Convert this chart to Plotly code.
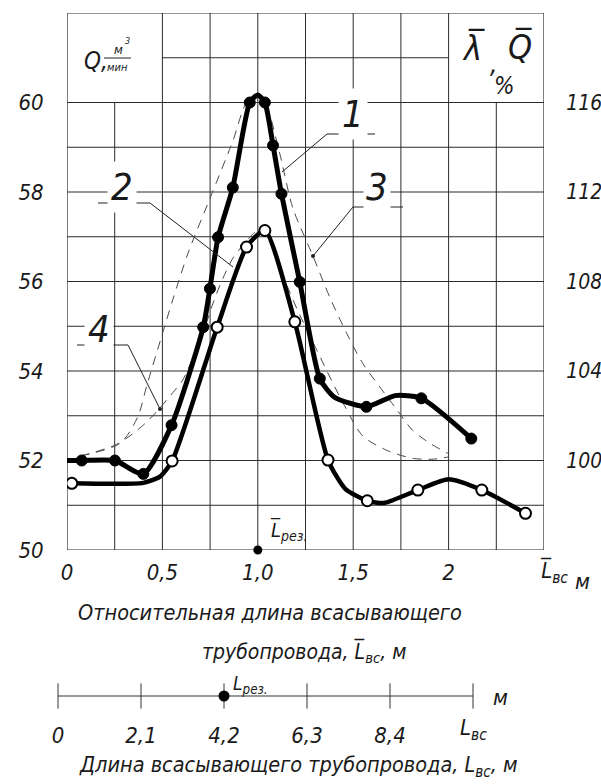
import plotly.graph_objects as go

# ---------------- data ----------------
# curve 1 (filled markers)
c1_x = [0.077, 0.251, 0.40, 0.548, 0.714, 0.749, 0.792, 0.869, 0.958, 1.037, 1.08, 1.124, 1.22, 1.325, 1.569, 1.857, 2.119]
c1_y = [52.0, 52.0, 51.7, 52.79, 54.98, 55.84, 56.99, 58.10, 60.0, 60.0, 59.04, 57.96, 55.99, 53.83, 53.2, 53.39, 52.49]
c1_line_x = [0.0, 0.077, 0.251, 0.40, 0.548, 0.714, 0.749, 0.792, 0.869, 0.958, 1.0, 1.037, 1.08, 1.124, 1.22, 1.325, 1.40, 1.569, 1.72, 1.857, 2.119]
c1_line_y = [52.0, 52.0, 52.0, 51.7, 52.79, 54.98, 55.84, 56.99, 58.10, 60.0, 60.17, 60.0, 59.04, 57.96, 55.99, 53.83, 53.42, 53.2, 53.45, 53.39, 52.49]

# curve 2 (open markers)
c2_x = [0.025, 0.551, 0.787, 0.941, 1.037, 1.194, 1.368, 1.574, 1.839, 2.174, 2.403]
c2_y = [51.49, 51.99, 54.98, 56.77, 57.14, 55.10, 52.01, 51.10, 51.34, 51.34, 50.82]
c2_line_x = [0.025, 0.40, 0.487, 0.551, 0.787, 0.941, 1.037, 1.194, 1.368, 1.46, 1.574, 1.66, 1.839, 2.0, 2.174, 2.403]
c2_line_y = [51.49, 51.5, 51.64, 51.99, 54.98, 56.77, 57.14, 55.10, 52.01, 51.36, 51.10, 51.05, 51.34, 51.58, 51.34, 50.82]

# curve 3 (wide dashed)
c3_x = [0.07, 0.28, 0.37, 0.42, 0.49, 0.555, 0.634, 0.76, 0.87, 0.94, 1.0, 1.04, 1.115, 1.183, 1.29, 1.377, 1.466, 1.55, 1.64, 1.73, 1.81, 1.90, 2.0]
c3_y = [52.1, 52.39, 52.97, 53.7, 54.69, 55.6, 56.63, 57.97, 59.15, 59.98, 60.12, 59.98, 58.86, 57.65, 56.56, 55.65, 54.84, 54.17, 53.64, 53.13, 52.68, 52.39, 52.15]

# curve 4 (narrow dashed)
c4_x = [0.07, 0.147, 0.25, 0.32, 0.41, 0.476, 0.565, 0.607, 0.712, 0.764, 0.817, 0.869, 0.92, 0.984, 1.02, 1.073, 1.115, 1.168, 1.204, 1.31, 1.445, 1.55, 1.675, 1.81, 1.92, 2.0]
c4_y = [52.1, 52.19, 52.34, 52.52, 52.83, 53.12, 53.57, 53.8, 54.84, 55.5, 56.07, 56.52, 56.8, 57.1, 57.19, 56.8, 56.3, 55.76, 55.4, 54.46, 53.3, 52.55, 52.23, 52.05, 52.03, 52.08]

# axes
x_ticks = [0, 0.5, 1.0, 1.5, 2.0]
x_ticktext = ["0", "0,5", "1,0", "1,5", "2"]
yl_ticks = [50, 52, 54, 56, 58, 60]
yr_ticks = [100, 104, 108, 112, 116]
L_ticks = [0, 2.1, 4.2, 6.3, 8.4, 10.5]
L_ticktext = ["0", "2,1", "4,2", "6,3", "8,4", ""]
L_rez_rel = 1.0
L_rez = 4.2

# ---------------- layout geometry (pixels) ----------------
W, H = 601, 784
ML, MR, MT, MB = 50, 57, 13, 40
AW, AH = W - ML - MR, H - MT - MB
OV = "\u0305"  # combining overline


def px(x):
    return (x - ML) / AW


def py(y):
    return (H - MB - y) / AH


FONT = "DejaVu Sans Condensed, Liberation Sans Narrow, Liberation Sans, sans-serif"
TXT = "#1a1a1a"
GRID = "#2b2b2b"

fig = go.Figure()

dash_style = dict(color="#4a4a4a", width=1, dash="9px,7px")
fig.add_trace(go.Scatter(x=c3_x, y=c3_y, mode="lines", line=dict(shape="spline", smoothing=0.8, **dash_style), hoverinfo="skip"))
fig.add_trace(go.Scatter(x=c4_x, y=c4_y, mode="lines", line=dict(shape="spline", smoothing=0.8, **dash_style), hoverinfo="skip"))

fig.add_trace(go.Scatter(x=c2_line_x, y=c2_line_y, mode="lines",
                         line=dict(color="black", width=4.5, shape="spline", smoothing=0.6)))
fig.add_trace(go.Scatter(x=c1_line_x, y=c1_line_y, mode="lines",
                         line=dict(color="black", width=5, shape="spline", smoothing=0.6)))
fig.add_trace(go.Scatter(x=c2_x, y=c2_y, mode="markers",
                         marker=dict(symbol="circle", size=11, color="white", line=dict(color="black", width=2))))
fig.add_trace(go.Scatter(x=c1_x, y=c1_y, mode="markers",
                         marker=dict(symbol="circle", size=11, color="black", line=dict(color="black", width=1))))
# resonance dot on main axis
fig.add_trace(go.Scatter(x=[L_rez_rel], y=[50], mode="markers", cliponaxis=False,
                         marker=dict(symbol="circle", size=9, color="black")))

# lower scale
fig.add_trace(go.Scatter(x=[L_ticks[0], L_ticks[-1]], y=[0, 0], mode="lines", xaxis="x2", yaxis="y3",
                         line=dict(color="#333", width=1), cliponaxis=False))
fig.add_trace(go.Scatter(x=L_ticks, y=[0] * len(L_ticks), mode="markers", xaxis="x2", yaxis="y3", cliponaxis=False,
                         marker=dict(symbol="line-ns", size=18, line=dict(color="#333", width=1))))
fig.add_trace(go.Scatter(x=[L_rez], y=[0], mode="markers", xaxis="x2", yaxis="y3", cliponaxis=False,
                         marker=dict(symbol="circle", size=11, color="black")))

# ---------------- grid as shapes ----------------
shapes = []
full_v = [0, 0.5, 0.75, 1.0, 1.25, 1.5, 1.75, 2.0, 2.5]
part_v = [0.25, 2.25]
for xv in full_v:
    shapes.append(dict(type="line", xref="x", yref="y", x0=xv, x1=xv, y0=50, y1=62,
                       line=dict(color=GRID, width=1.2 if xv in (0, 2.5) else 1), layer="below"))
for xv in part_v:
    shapes.append(dict(type="line", xref="x", yref="y", x0=xv, x1=xv, y0=50, y1=60,
                       line=dict(color=GRID, width=1), layer="below"))
for yv in range(50, 61):
    shapes.append(dict(type="line", xref="x", yref="y", x0=0, x1=2.5, y0=yv, y1=yv,
                       line=dict(color=GRID, width=1.2 if yv == 50 else 1), layer="below"))
shapes.append(dict(type="line", xref="x", yref="y", x0=0.5, x1=2.0, y0=61, y1=61, line=dict(color=GRID, width=1), layer="below"))
shapes.append(dict(type="line", xref="x", yref="y", x0=0, x1=2.5, y0=62, y1=62, line=dict(color=GRID, width=1.2), layer="below"))


def pline(x0, y0, x1, y1, w=1, color="#222"):
    shapes.append(dict(type="line", xref="paper", yref="paper", x0=px(x0), y0=py(y0), x1=px(x1), y1=py(y1),
                       line=dict(color=color, width=w)))


def pdot(x, y, r=2):
    shapes.append(dict(type="circle", xref="paper", yref="paper", x0=px(x - r), x1=px(x + r), y0=py(y + r), y1=py(y - r),
                       fillcolor="#222", line=dict(color="#222", width=0)))


annotations = []


def ann(text, x, y, size, xanchor="center", yanchor="middle", bg=None, pad=1):
    a = dict(text=text, xref="paper", yref="paper", x=px(x), y=py(y), xanchor=xanchor, yanchor=yanchor,
             showarrow=False, font=dict(family=FONT, size=size, color=TXT, style="italic"), borderpad=pad)
    if bg:
        a["bgcolor"] = bg
    annotations.append(a)


# curve labels with leaders
ann("1", 353, 114, 38, bg="white", pad=3)
pline(327, 134, 375, 134)
pline(327, 134, 282, 172)
ann("2", 122, 187, 38, bg="white", pad=3)
pline(98, 203, 150, 203)
pline(150, 203, 233, 267)
ann("3", 377, 187, 38, bg="white", pad=2)
pline(353, 207, 403, 207)
pline(353, 207, 313, 256)
pdot(313, 256, 2)
ann("4", 99, 329, 38, bg="white", pad=3)
pline(77, 345, 128, 345)
pline(128, 345, 160, 409)
pdot(160, 409, 2)

# Q, m3/min
ann("Q,", 82, 61, 24, xanchor="left")
ann("м", 118, 50, 13)
ann("3", 127, 41, 9)
pline(104, 58, 131, 58, w=1)
ann("мин", 117, 68, 11)

# lambda, Q, %
ann("λ" + OV, 473, 48, 34)
ann(",", 493, 64, 26)
ann("Q" + OV, 520, 47, 34)
ann("%", 504, 86, 24)

# L rez on main axis
ann("L" + OV + "<sub>рез.</sub>", 268, 530, 20, xanchor="left")

# L_bc, m at the end of main axis
ann("L" + OV + "<sub>вс</sub>", 538, 572, 22, xanchor="left")
ann("м", 582, 581, 22)

# titles
ann("Относительная длина всасывающего", 270, 612, 21.5)
ann("трубопровода, L" + OV + "<sub>вс</sub>, м", 304, 652, 21)

ann("L<sub>рез.</sub>", 231, 684, 19, xanchor="left")
ann("м", 500, 697, 22)
ann("L<sub>вс</sub>", 458, 729, 22, xanchor="left")
ann("Длина всасывающего трубопровода, L<sub>вс</sub>, м", 298, 766, 21.5)

tickfont = dict(family=FONT, size=22, color=TXT, style="italic")
tickfont_r = dict(family=FONT, size=21, color=TXT, style="italic")

fig.update_layout(
    width=W, height=H,
    margin=dict(l=ML, r=MR, t=MT, b=MB, autoexpand=False),
    paper_bgcolor="white", plot_bgcolor="white",
    showlegend=False,
    font=dict(family=FONT, color=TXT, style="italic"),
    xaxis=dict(domain=[px(67), 1], range=[0, 2.5], anchor="y", tickvals=x_ticks, ticktext=x_ticktext,
               showgrid=False, zeroline=False, showline=False, ticks="outside", ticklen=3, automargin=False,
               tickcolor="rgba(0,0,0,0)", tickfont=tickfont),
    yaxis=dict(domain=[py(550), 1], range=[50, 62], anchor="x", tickvals=yl_ticks, automargin=False,
               showgrid=False, zeroline=False, showline=False, ticks="outside", ticklen=18,
               tickcolor="rgba(0,0,0,0)", tickfont=tickfont),
    yaxis2=dict(overlaying="y", side="right", anchor="x", range=[96, 120], tickvals=yr_ticks, automargin=False,
                showgrid=False, zeroline=False, showline=False, ticks="outside", ticklen=17,
                tickcolor="rgba(0,0,0,0)", tickfont=tickfont_r),
    xaxis2=dict(domain=[px(58), px(473)], range=[0, 10.5], anchor="y3", tickvals=L_ticks, ticktext=L_ticktext,
                showgrid=False, zeroline=False, showline=False, ticks="outside", ticklen=4, automargin=False,
                tickcolor="rgba(0,0,0,0)", tickfont=tickfont),
    yaxis3=dict(domain=[py(712), py(680)], range=[-1, 1], anchor="x2", visible=False),
    shapes=shapes,
    annotations=annotations,
)
# dummy trace for right axis so it renders
fig.add_trace(go.Scatter(x=[None], y=[None], yaxis="y2", showlegend=False))

fig.write_html("out.html", config={"displayModeBar": False},
               post_script="document.body.style.margin='0';document.body.style.padding='0';")
